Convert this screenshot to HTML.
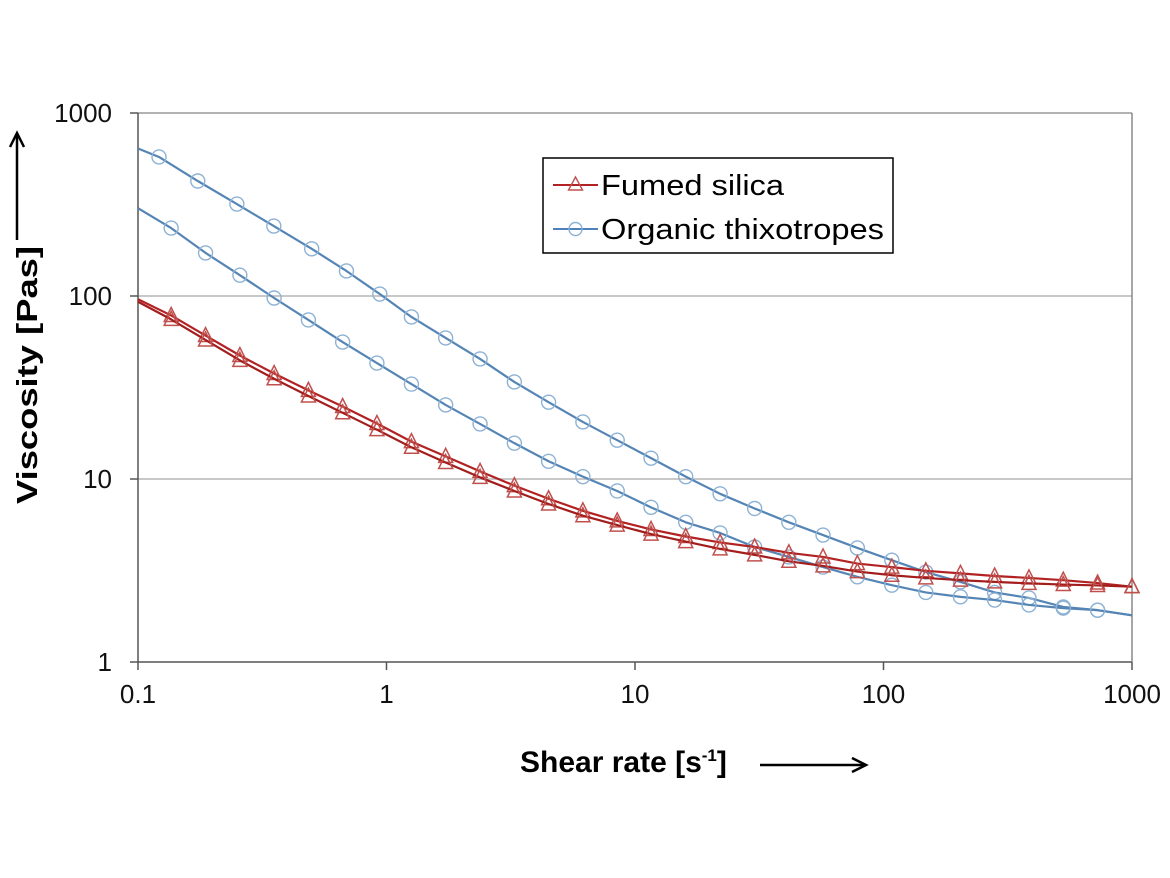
<!DOCTYPE html>
<html><head><meta charset="utf-8"><style>
html,body{margin:0;padding:0;background:#fff;}
svg{display:block;font-family:"Liberation Sans",Arial,sans-serif;}
</style></head><body>
<svg id="chart" width="1170" height="878" viewBox="0 0 1170 878">
<g id="grid"></g>
<g id="axes"></g>
<g id="series"></g>
<g>
  <text x="0" y="0" transform="translate(37,375) rotate(-90)" text-anchor="middle" font-size="29" font-weight="bold" fill="#000" textLength="258" lengthAdjust="spacingAndGlyphs">Viscosity [Pas]</text>
  <line x1="17" y1="240" x2="17" y2="135" stroke="#000" stroke-width="2.5"/>
  <path d="M10,147 L17,133 L24,147" fill="none" stroke="#000" stroke-width="2.5"/>
</g>
<g>
  <text x="520" y="772" font-size="30" font-weight="bold" fill="#000">Shear rate [s<tspan dy="-11" font-size="17">-1</tspan><tspan dy="11">]</tspan></text>
  <line x1="760" y1="765" x2="864" y2="765" stroke="#000" stroke-width="2.5"/>
  <path d="M852,758 L866,765 L852,772" fill="none" stroke="#000" stroke-width="2.5"/>
</g>
<g>
  <rect x="543" y="158" width="350" height="95" fill="#fff" stroke="#000" stroke-width="1.5"/>
  <g>
    <line x1="553" y1="185" x2="598" y2="185" stroke="#b22222" stroke-width="2"/>
    <path d="M575.5,177 L582.5,190 L568.5,190 Z" fill="none" stroke="#c0504d" stroke-width="1.4"/>
    <text x="601" y="195" font-size="29" fill="#000" textLength="183" lengthAdjust="spacingAndGlyphs">Fumed silica</text>
  </g>
  <g>
    <line x1="553" y1="229" x2="598" y2="229" stroke="#4f81bd" stroke-width="2"/>
    <circle cx="575.5" cy="229" r="6.5" fill="none" stroke="#8eb2d4" stroke-width="1.4"/>
    <text x="601" y="239" font-size="29" fill="#000" textLength="283" lengthAdjust="spacingAndGlyphs">Organic thixotropes</text>
  </g>
</g>
</svg>
<script>
const xTicks = [0.1, 1, 10, 100, 1000];
const xTickLabels = ["0.1", "1", "10", "100", "1000"];
const yTicks = [1, 10, 100, 1000];
const yTickLabels = ["1", "10", "100", "1000"];
const shearRates = [0.136,0.187,0.257,0.353,0.485,0.666,0.915,1.26,1.73,2.38,3.27,4.49,6.17,8.48,11.6,16.0,22.0,30.3,41.6,57.1,78.5,108,148,204,280,385,529,727,1000];
const shearRatesUpper = [0.1215,0.174,0.25,0.352,0.5,0.69,0.94,1.26,1.73,2.38,3.27,4.49,6.17,8.48,11.6,16.0,22.0,30.3,41.6,57.1,78.5,108,148,204,280,385,529,727];
const fumedUp = [78.3,60.8,47.3,37.7,30.5,24.9,20.1,16.0,13.3,11.0,9.2,7.8,6.7,5.9,5.3,4.85,4.5,4.25,3.95,3.75,3.45,3.3,3.15,3.05,2.95,2.88,2.8,2.7,2.58];
const fumedDown = [74.5,57.5,44.5,35.3,28.4,23.0,18.6,14.9,12.3,10.2,8.6,7.3,6.3,5.6,5.0,4.55,4.15,3.85,3.55,3.35,3.12,2.98,2.88,2.8,2.74,2.69,2.65,2.62,2.58];
const organicUpper = [575,425,318,241,181,137,102.5,76.8,59,45.3,33.9,26.3,20.5,16.3,13.0,10.3,8.3,6.9,5.8,4.94,4.2,3.6,3.1,2.74,2.4,2.24,2.0,1.92];
const organicLower = [235,172,130,97.5,74,56,43,33,25.4,20,15.7,12.5,10.3,8.6,7.0,5.8,5.07,4.25,3.75,3.3,2.92,2.63,2.4,2.27,2.18,2.05,1.97,1.92];
const fumedStart = [96, 93];
const organicStart = [640, 302];
const organicEnd = [1.8, 1.8];

const L=138,R=1132,T=113,B=662;
const X=v=>L+(Math.log10(v)+1)/4*(R-L);
const Y=v=>B-Math.log10(v)/3*(B-T);
const NS="http://www.w3.org/2000/svg";
function mk(tag,parent,attrs){const e=document.createElementNS(NS,tag);for(const k in attrs)e.setAttribute(k,attrs[k]);parent.appendChild(e);return e;}
const grid=document.getElementById('grid'),axes=document.getElementById('axes'),ser=document.getElementById('series');

yTicks.forEach((t,i)=>{
  if(t>1){const g=mk('line',grid,{x1:L,x2:R,y1:Y(t),y2:Y(t),stroke:t===1000?'#999':'#b5b5b5','stroke-width':1.5});
  
  }
  const tk=mk('line',axes,{x1:L-8,x2:L,y1:Y(t),y2:Y(t),stroke:'#555','stroke-width':1.5});
  
  
  const lb=mk('text',axes,{x:112,y:Y(t)+9,'text-anchor':'end','font-size':26,fill:'#111'});
  lb.textContent=yTickLabels[i];
  
  
});
xTicks.forEach((t,i)=>{
  const tk=mk('line',axes,{x1:X(t),x2:X(t),y1:B,y2:B+8,stroke:'#555','stroke-width':1.5});
  
  
  const lb=mk('text',axes,{x:X(t),y:703,'text-anchor':'middle','font-size':26,fill:'#111'});
  lb.textContent=xTickLabels[i];
  
  
});
const ax1=mk('line',axes,{x1:L,x2:L,y1:T,y2:B,stroke:'#555','stroke-width':1.5});


const ax2=mk('line',axes,{x1:L,x2:R,y1:B,y2:B,stroke:'#555','stroke-width':1.5});


const ax3=mk('line',axes,{x1:R,x2:R,y1:T,y2:B,stroke:'#888','stroke-width':1.5});



function drawSeries(name,xs,ys,start,end,lineColor,markColor,shape){
  const g=mk('g',ser,{});
  
  
  const pts=[[X(0.1),Y(start)]];
  xs.forEach((x,i)=>{if(i<ys.length)pts.push([X(x),Y(ys[i])]);});
  if(end!==null)pts.push([X(1000),Y(end)]);
  const pl=mk('polyline',g,{points:pts.map(p=>p.join(',')).join(' '),fill:'none',stroke:lineColor,'stroke-width':2.2,'stroke-linejoin':'round'});
  
  
  ys.forEach((v,i)=>{
    const cx=X(xs[i]),cy=Y(v);let m;
    if(shape==='tri'){m=mk('path',g,{d:`M${cx},${cy-8} L${cx+7},${cy+6} L${cx-7},${cy+6} Z`,fill:'none',stroke:markColor,'stroke-width':1.5});}
    else{m=mk('circle',g,{cx:cx,cy:cy,r:7,fill:'none',stroke:markColor,'stroke-width':1.4});}
    
    
  });
}
drawSeries('organic-upper-curve',shearRatesUpper,organicUpper,organicStart[0],organicEnd[0],'#5585b5','#8eb2d4','circ');
drawSeries('organic-lower-curve',shearRates,organicLower,organicStart[1],organicEnd[1],'#5585b5','#8eb2d4','circ');
drawSeries('fumed-up-curve',shearRates,fumedUp,fumedStart[0],null,'#b22222','#c0504d','tri');
drawSeries('fumed-down-curve',shearRates,fumedDown,fumedStart[1],null,'#a31d1d','#c0504d','tri');
</script>
</body></html>
